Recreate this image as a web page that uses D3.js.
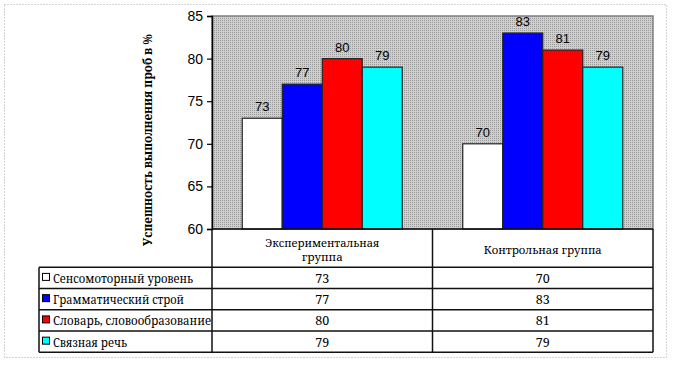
<!DOCTYPE html>
<html><head><meta charset="utf-8">
<script src="https://cdn.jsdelivr.net/npm/d3@7"></script>
<style>html,body{margin:0;padding:0;background:#fff;}svg{display:block;}
.serif{font-family:'Noto Serif','DejaVu Serif',serif;}
.sans{font-family:'Liberation Sans',Arial,sans-serif;}
</style>
</head><body>
<svg id="c" width="673" height="367"></svg>
<script>
const groups = ["Экспериментальная группа", "Контрольная группа"];
const groupLines = [["Экспериментальная", "группа"], ["Контрольная группа"]];
const series = ["Сенсомоторный уровень", "Грамматический строй", "Словарь, словообразование", "Связная речь"];
const colors = ["#ffffff", "#0000ff", "#ff0000", "#00ffff"];
const sensomotor = [73, 70];
const grammar = [77, 83];
const vocabulary = [80, 81];
const speech = [79, 79];
const values = [sensomotor, grammar, vocabulary, speech];
const yTicks = [60, 65, 70, 75, 80, 85];
const yTitle = "Успешность выполнения проб в %";

const fitWidth = {
  "Сенсомоторный уровень": 140, "Грамматический строй": 131,
  "Словарь, словообразование": 158, "Связная речь": 74,
  "Экспериментальная": 114, "Контрольная группа": 118
};
function fit(sel, txt) {
  const w = fitWidth[txt];
  if (w) {
    const n = sel.node().getComputedTextLength();
    if (Math.abs(n - w) > 1) sel.attr("textLength", w).attr("lengthAdjust", "spacingAndGlyphs");
  }
  return sel;
}

const svg = d3.select("#c");
const L = 212, R = 653, T = 16, B = 229;
const rowY = [267.3, 288.5, 309.8, 331, 352.3];
const tableLeft = 39;

svg.append("rect").attr("x", 4.5).attr("y", 4.5).attr("width", 662).attr("height", 353)
  .attr("fill", "none").attr("stroke", "#a8a8a8").attr("stroke-dasharray", "1,2");

const defs = svg.append("defs");
const pat = defs.append("pattern").attr("id", "dots").attr("patternUnits", "userSpaceOnUse")
  .attr("width", 2).attr("height", 2);
pat.append("rect").attr("width", 2).attr("height", 2).attr("fill", "#cfcfcf");
pat.append("rect").attr("width", 1).attr("height", 1).attr("fill", "#9a9a9a");

const y = d3.scaleLinear().domain([60, 85]).range([B, T]);
const x0 = d3.scaleBand().domain(groups).range([L, R]);
const x1 = d3.scaleBand().domain(series).range([0, x0.bandwidth()]).paddingOuter(0.756);

svg.append("rect").attr("x", L).attr("y", T).attr("width", R - L).attr("height", B - T)
  .attr("fill", "url(#dots)").attr("stroke", "#808080").attr("stroke-width", 1.5);

const g = svg.append("g");
series.forEach((s, si) => {
  groups.forEach((gr, gi) => {
    const v = values[si][gi];
    const bx = x0(gr) + x1(s);
    g.append("rect").attr("x", bx).attr("y", y(v)).attr("width", x1.bandwidth()).attr("height", B - y(v))
      .attr("fill", colors[si]).attr("stroke", "#222").attr("stroke-width", 1.2);
    g.append("text").attr("class", "sans").attr("x", bx + x1.bandwidth() / 2).attr("y", y(v) - 7)
      .attr("text-anchor", "middle")
      .attr("font-size", 13).attr("fill", "#000").text(v);
  });
});

const yAxis = d3.axisLeft(y).tickValues(yTicks).tickSize(5).tickPadding(4);
const ya = svg.append("g").attr("transform", `translate(${L},0)`).call(yAxis);
ya.attr("font-family", null).attr("font-size", null);
ya.select(".domain").attr("stroke", "#000").attr("stroke-width", 1.5);
ya.selectAll(".tick line").attr("stroke", "#000").attr("stroke-width", 1.2);
ya.selectAll(".tick text").attr("class", "sans")
  .attr("font-size", 14).attr("fill", "#000");

const title = svg.append("text").attr("class", "serif").attr("transform", "translate(152,140) rotate(-90)")
  .attr("text-anchor", "middle")
  .attr("font-weight", "bold").attr("font-size", 12).text(yTitle);
{
  const n = title.node().getComputedTextLength();
  if (Math.abs(n - 212) > 1) title.attr("textLength", 212).attr("lengthAdjust", "spacingAndGlyphs");
}

const tl = svg.append("g").attr("stroke", "#111").attr("stroke-width", 1.5);
tl.append("line").attr("x1", L).attr("x2", R).attr("y1", B).attr("y2", B);
rowY.forEach(ry => tl.append("line").attr("x1", tableLeft).attr("x2", R).attr("y1", ry).attr("y2", ry));
tl.append("line").attr("x1", tableLeft).attr("x2", tableLeft).attr("y1", rowY[0]).attr("y2", rowY[4]);
[L, x0(groups[1]), R].forEach(vx => tl.append("line").attr("x1", vx).attr("x2", vx).attr("y1", B).attr("y2", rowY[4]));

groups.forEach((gr, gi) => {
  const cx = x0(gr) + x0.bandwidth() / 2;
  const lines = groupLines[gi];
  const mid = (B + rowY[0]) / 2;
  lines.forEach((ln, li) => {
    const t = svg.append("text").attr("class", "serif").attr("x", cx).attr("y", mid + 5.5 + (li - (lines.length - 1) / 2) * 14)
      .attr("text-anchor", "middle").attr("font-size", 11.5).text(ln);
    fit(t, ln);
  });
  series.forEach((s, si) => {
    svg.append("text").attr("class", "serif").attr("x", cx).attr("y", (rowY[si] + rowY[si + 1]) / 2 + 5)
      .attr("text-anchor", "middle").attr("font-size", 12.5)
      .text(values[si][gi]);
  });
});
series.forEach((s, si) => {
  const cy = (rowY[si] + rowY[si + 1]) / 2;
  svg.append("rect").attr("x", 42.5).attr("y", cy - 4.5).attr("width", 7).attr("height", 7)
    .attr("fill", colors[si]).attr("stroke", "#000").attr("stroke-width", 1);
  const t = svg.append("text").attr("class", "serif").attr("x", 53).attr("y", cy + 5)
    .attr("font-size", 12).text(s);
  fit(t, s);
});
</script>
</body></html>
